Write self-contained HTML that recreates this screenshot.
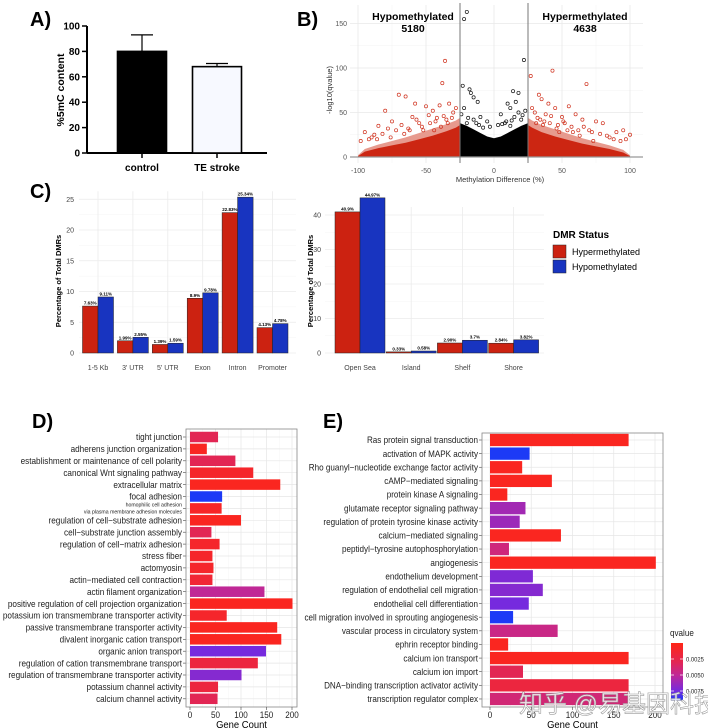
<!DOCTYPE html>
<html><head><meta charset="utf-8">
<style>
html,body{margin:0;padding:0;background:#fff;}
svg{display:block;font-family:"Liberation Sans",sans-serif;}
</style></head>
<body>
<svg id="fig" width="708" height="728" viewBox="0 0 708 728" xmlns="http://www.w3.org/2000/svg"></svg>
<script>
// ---------- data ----------
const aCats = ["control","TE stroke"];
const aVals = [80, 68];
const aErr = [93, 70.5];
const aTicks = [0,20,40,60,80,100];

const bHypoCount = "5180", bHyperCount = "4638";
const bTicksX = [-100,-50,0,50,100];
const bTicksY = [0,50,100,150];
const bBlackEnvX = [-25,-20,-15,-10,-5,0,5,10,15,20,25];
const bBlackEnvY = [38,35,31,27,23,21,23,27,31,35,38];
const bHyperEnvX = [25,28,35,45,55,65,75,85,95,100];
const bHyperEnvY = [36,33,28,23,19,15,12,9,5,1];
const bHypoEnvX = [-25,-28,-35,-45,-55,-65,-75,-85,-95,-100];
const bHypoEnvY = [36,33,29,24,20,16,13,10,6,1];
const bHyperHaloY = [44,41,36,31,26,21,17,13,8,2];
const bHypoHaloY = [44,41,37,32,27,22,18,14,9,2];
const bBlackPtsX = [-20,-22,22,-23,-18,-17,-15,-12,14,18,16,10,12,-22,5,15,-10,-15,20,-20,8,18,-5,3,12,-8,-19,-13,21,9,-3,6,-24,23,-11,13];
const bBlackPtsY = [163,155,109,80,76,72,67,62,74,72,62,60,55,55,48,45,45,42,42,38,38,50,40,36,35,33,44,38,47,40,34,37,48,52,36,41];
const bRedPtsX = [-36,-38,43,68,27,-70,-65,-58,-80,-50,-45,-40,-30,-95,-88,-85,-75,-60,35,40,45,55,60,50,75,80,90,95,100,85,65,30,33,-33,-55,-48,-78,-92,-62,38,52,70,88,-42,-28,28,-52,
  -68,-72,-82,-90,-98,-35,-43,-53,-63,-57,-47,-37,-31,32,37,42,47,57,62,72,78,83,93,97,36,41,46,51,58,66,-66,-76,-86,-44,-39,-34,31,34,48,54,63,73];
const bRedPtsY = [108,83,97,82,91,70,68,60,52,57,52,58,50,28,25,35,40,45,65,60,55,57,48,45,40,38,28,30,25,22,42,50,70,60,38,47,32,20,30,48,38,30,20,44,55,55,30,
  36,30,26,22,18,42,40,34,32,42,38,46,44,44,40,46,36,34,30,28,26,24,18,20,36,38,32,40,28,34,26,22,20,30,34,38,38,42,28,30,24,18];

const cLeftCats = ["1-5 Kb","3' UTR","5' UTR","Exon","Intron","Promoter"];
const cLeftHyper = [7.63,1.99,1.39,8.9,22.83,4.13];
const cLeftHypo = [9.11,2.55,1.59,9.78,25.34,4.78];
const cLeftHyperLbl = ["7.63%","1.99%","1.39%","8.9%","22.83%","4.13%"];
const cLeftHypoLbl = ["9.11%","2.55%","1.59%","9.78%","25.34%","4.78%"];
const cLeftTicks = [0,5,10,15,20,25];
const cRightCats = ["Open Sea","Island","Shelf","Shore"];
const cRightHyper = [40.9,0.33,2.9,2.84];
const cRightHypo = [44.97,0.58,3.7,3.82];
const cRightHyperLbl = ["40.9%","0.33%","2.90%","2.84%"];
const cRightHypoLbl = ["44.97%","0.58%","3.7%","3.82%"];
const cRightTicks = [0,10,20,30,40];

const dTerms = ["tight junction","adherens junction organization","establishment or maintenance of cell polarity","canonical Wnt signaling pathway","extracellular matrix","focal adhesion","homophilic cell adhesion|via plasma membrane adhesion molecules","regulation of cell\u2212substrate adhesion","cell\u2212substrate junction assembly","regulation of cell\u2212matrix adhesion","stress fiber","actomyosin","actin\u2212mediated cell contraction","actin filament organization","positive regulation of cell projection organization","potassium ion transmembrane transporter activity","passive transmembrane transporter activity","divalent inorganic cation transport","organic anion transport","regulation of cation transmembrane transport","regulation of transmembrane transporter activity","potassium channel activity","calcium channel activity"];
const dCounts = [55,33,89,124,177,63,62,100,42,58,44,46,44,146,201,72,171,179,149,133,101,55,54];
const dQ = [0.003,0.0006,0.003,0.001,0.0005,0.009,0.0008,0.0005,0.003,0.001,0.001,0.001,0.0015,0.005,0.0005,0.001,0.0005,0.0005,0.0075,0.002,0.007,0.002,0.003];
const eTerms = ["Ras protein signal transduction","activation of MAPK activity","Rho guanyl\u2212nucleotide exchange factor activity","cAMP\u2212mediated signaling","protein kinase A signaling","glutamate receptor signaling pathway","regulation of protein tyrosine kinase activity","calcium\u2212mediated signaling","peptidyl\u2212tyrosine autophosphorylation","angiogenesis","endothelium development","regulation of endothelial cell migration","endothelial cell differentiation","cell migration involved in sprouting angiogenesis","vascular process in circulatory system","ephrin receptor binding","calcium ion transport","calcium ion import","DNA\u2212binding transcription activator activity","transcription regulator complex"];
const eCounts = [168,48,39,75,21,43,36,86,23,201,52,64,47,28,82,22,168,40,168,168];
const eQ = [0.0005,0.009,0.0005,0.0005,0.0005,0.006,0.0062,0.0005,0.0042,0.0005,0.0072,0.007,0.0075,0.009,0.0045,0.0005,0.0005,0.003,0.002,0.004];
const gcTicks = [0,50,100,150,200];
const qTicks = [0.0025,0.005,0.0075];
const qTickLbl = ["0.0025","0.0050","0.0075"];

// ---------- helpers ----------
const svg = document.getElementById('fig');
const NS = "http://www.w3.org/2000/svg";
function el(tag, attrs, parent){
  const e = document.createElementNS(NS, tag);
  for (const k in attrs) e.setAttribute(k, attrs[k]);
  (parent||svg).appendChild(e);
  return e;
}
function txt(s, attrs, parent){ const t = el('text', attrs, parent); t.textContent = s; return t; }
function ntxt(s, x, y, size, anchor, parent, sx){
  return txt(s,{x:0,y:0,'font-size':size,'text-anchor':anchor,fill:'#222',transform:`translate(${x},${y}) scale(${sx||0.9},1)`},parent);
}
function qColor(q){
  const st=[[0,[255,38,22]],[0.003,[226,38,84]],[0.005,[192,40,150]],[0.0075,[118,42,222]],[0.009,[28,58,246]]];
  q=Math.max(0,Math.min(0.009,q));
  for(let i=1;i<st.length;i++){ if(q<=st[i][0]){ const a=st[i-1],b=st[i],t=(q-a[0])/(b[0]-a[0]);
    const c=a[1].map((v,j)=>Math.round(v+(b[1][j]-v)*t)); return `rgb(${c})`; } }
  return 'rgb(28,58,246)';
}
function panelLabel(s,x,y){
  const t = txt(s,{x:x,y:y,'font-size':20,'font-weight':'bold'});
  
  
}

// ---------- Panel A ----------
const gA = el('g',{});


panelLabel('A)',30,26);
const yA = v => 153 - v*1.27;
const xAc = [142, 217];
el('line',{x1:87,y1:yA(100),x2:87,y2:yA(0),stroke:'#000','stroke-width':2},gA);
el('line',{x1:87,y1:yA(0),x2:267,y2:yA(0),stroke:'#000','stroke-width':2},gA);
aTicks.forEach(t=>{
  el('line',{x1:82,y1:yA(t),x2:87,y2:yA(t),stroke:'#000','stroke-width':1.5},gA);
  txt(String(t),{x:80,y:yA(t)+3.5,'font-size':10,'font-weight':'bold','text-anchor':'end'},gA);
});
aCats.forEach((c,i)=>{
  el('line',{x1:xAc[i],y1:yA(aVals[i]),x2:xAc[i],y2:yA(aErr[i]),stroke:'#000','stroke-width':1.2},gA);
  el('line',{x1:xAc[i]-11,y1:yA(aErr[i]),x2:xAc[i]+11,y2:yA(aErr[i]),stroke:'#000','stroke-width':1.2},gA);
  const r = el('rect',{x:xAc[i]-24.5,y:yA(aVals[i]),width:49,height:yA(0)-yA(aVals[i]),fill:i==0?'#000':'#f7f9ff',stroke:'#000','stroke-width':1.6},gA);
  
  
  el('line',{x1:xAc[i],y1:yA(0),x2:xAc[i],y2:yA(0)+5,stroke:'#000','stroke-width':1.5},gA);
  txt(c,{x:xAc[i],y:171,'font-size':10,'font-weight':'bold','text-anchor':'middle'},gA);
});
txt('%5mC content',{x:0,y:0,'font-size':10.5,'font-weight':'bold','text-anchor':'middle',transform:'translate(64,90) rotate(-90)'},gA);

// ---------- Panel B ----------
const gB = el('g',{});


panelLabel('B)',297,26);
const xB = v => 494 + v*1.36;
const yB = v => 157 - v*0.89;
[-75,-25,25,75].forEach(v=>el('line',{x1:xB(v),y1:5,x2:xB(v),y2:163,stroke:'#f3f3f3','stroke-width':0.6},gB));
[25,75,125].forEach(v=>el('line',{x1:350,y1:yB(v),x2:643,y2:yB(v),stroke:'#f3f3f3','stroke-width':0.6},gB));
bTicksX.forEach(v=>el('line',{x1:xB(v),y1:5,x2:xB(v),y2:163,stroke:'#e8e8e8','stroke-width':0.8},gB));
bTicksY.forEach(v=>el('line',{x1:350,y1:yB(v),x2:643,y2:yB(v),stroke:'#e8e8e8','stroke-width':0.8},gB));
bTicksX.forEach(v=>txt(String(v),{x:xB(v),y:173,'font-size':7,fill:'#555','text-anchor':'middle'},gB));
bTicksY.forEach(v=>txt(String(v),{x:347,y:yB(v)+2.5,'font-size':7,fill:'#555','text-anchor':'end'},gB));
function env(xs,ys,fill,name){
  let d='M'+xB(xs[0])+','+yB(0);
  xs.forEach((x,i)=>d+=' L'+xB(x)+','+yB(ys[i]));
  d+=' L'+xB(xs[xs.length-1])+','+yB(0)+' Z';
  const p=el('path',{d:d,fill:fill},gB);
  
  
}
env(bHyperEnvX,bHyperHaloY,'#e79a8e','hypermethylated-sparse-points');
env(bHypoEnvX,bHypoHaloY,'#e79a8e','hypomethylated-sparse-points');
env(bHyperEnvX,bHyperEnvY,'#cc2612','hypermethylated-point-cloud');
env(bHypoEnvX,bHypoEnvY,'#cc2612','hypomethylated-point-cloud');
env(bBlackEnvX,bBlackEnvY,'#000','non-significant-point-cloud');
bRedPtsX.forEach((x,i)=>{
  const c=el('circle',{cx:xB(x),cy:yB(bRedPtsY[i]),r:1.6,fill:'none',stroke:'#d0321e','stroke-width':0.7},gB);
  
  
});
bBlackPtsX.forEach((x,i)=>{
  const c=el('circle',{cx:xB(x),cy:yB(bBlackPtsY[i]),r:1.6,fill:'none',stroke:'#111','stroke-width':0.7},gB);
  
  
});
el('line',{x1:350,y1:yB(0),x2:643,y2:yB(0),stroke:'#999','stroke-width':1.2},gB);
[-25,25].forEach(v=>el('line',{x1:xB(v),y1:3,x2:xB(v),y2:163,stroke:'#777','stroke-width':1},gB));
txt('Hypomethylated',{x:413,y:20,'font-size':10.5,'font-weight':'bold','text-anchor':'middle'},gB);
txt(bHypoCount,{x:413,y:32,'font-size':10.5,'font-weight':'bold','text-anchor':'middle'},gB);
txt('Hypermethylated',{x:585,y:20,'font-size':10.5,'font-weight':'bold','text-anchor':'middle'},gB);
txt(bHyperCount,{x:585,y:32,'font-size':10.5,'font-weight':'bold','text-anchor':'middle'},gB);
txt('-log10(qvalue)',{x:0,y:0,'font-size':7.5,fill:'#333','text-anchor':'middle',transform:'translate(332,90) rotate(-90)'},gB);
txt('Methylation Difference (%)',{x:500,y:182,'font-size':7.5,fill:'#333','text-anchor':'middle'},gB);

// ---------- Panel C ----------
const gC = el('g',{});


panelLabel('C)',30,198);
const RED='#cc2211', BLUE='#1834c0';
function groupedBars(cats,hy,ho,hyL,hoL,ticks,yf,x0,x1,cx0,step,bw,tickX,ylx,prefix){
  ticks.forEach(t=>{
    el('line',{x1:x0,y1:yf(t),x2:x1,y2:yf(t),stroke:'#ebebeb','stroke-width':0.8},gC);
    txt(String(t),{x:tickX,y:yf(t)+2.5,'font-size':7,fill:'#444','text-anchor':'end'},gC);
  });
  for(let k=0;k<ticks.length-1;k++){ const m=(ticks[k]+ticks[k+1])/2;
    el('line',{x1:x0,y1:yf(m),x2:x1,y2:yf(m),stroke:'#f5f5f5','stroke-width':0.6},gC);}
  cats.forEach((c,i)=>{
    const cx=cx0+i*step;
    el('line',{x1:cx,y1:yf(ticks[ticks.length-1])-8,x2:cx,y2:yf(0),stroke:'#ebebeb','stroke-width':0.8},gC);
    const r1=el('rect',{x:cx-bw,y:yf(hy[i]),width:bw,height:yf(0)-yf(hy[i]),fill:RED,stroke:'#222','stroke-width':0.5},gC);
    
    
    const r2=el('rect',{x:cx,y:yf(ho[i]),width:bw,height:yf(0)-yf(ho[i]),fill:BLUE,stroke:'#222','stroke-width':0.5},gC);
    
    
    txt(hyL[i],{x:cx-bw/2,y:yf(hy[i])-1.5,'font-size':4.5,'font-weight':'bold','text-anchor':'middle'},gC);
    txt(hoL[i],{x:cx+bw/2,y:yf(ho[i])-1.5,'font-size':4.5,'font-weight':'bold','text-anchor':'middle'},gC);
    txt(c,{x:cx,y:370,'font-size':7,fill:'#444','text-anchor':'middle'},gC);
  });
  txt('Percentage of Total DMRs',{x:0,y:0,'font-size':7.5,'font-weight':'bold','text-anchor':'middle',transform:`translate(${ylx},281) rotate(-90)`},gC);
}
const yCL = v => 353 - v*6.15;
const yCR = v => 353 - v*3.45;
groupedBars(cLeftCats,cLeftHyper,cLeftHypo,cLeftHyperLbl,cLeftHypoLbl,cLeftTicks,yCL,79,296,98,34.9,15.5,74,61,'region');
groupedBars(cRightCats,cRightHyper,cRightHypo,cRightHyperLbl,cRightHypoLbl,cRightTicks,yCR,325,544,360,51.2,25,321,313,'cpg');
const gL = el('g',{},gC);


txt('DMR Status',{x:553,y:238,'font-size':10,'font-weight':'bold'},gL);
el('rect',{x:553,y:245,width:13,height:13,fill:RED,stroke:'#222','stroke-width':0.5},gL);
el('rect',{x:553,y:260,width:13,height:13,fill:BLUE,stroke:'#222','stroke-width':0.5},gL);
txt('Hypermethylated',{x:572,y:255,'font-size':9},gL);
txt('Hypomethylated',{x:572,y:270,'font-size':9},gL);

// ---------- Panels D / E ----------
function goChart(name,terms,counts,qs,L,R,T,B,xf,y0,step,bh,lblX,sx){
  const g=el('g',{});
  
  
  el('rect',{x:L,y:T,width:R-L,height:B-T,fill:'#fff'},g);
  [25,75,125,175].forEach(v=>el('line',{x1:xf(v),y1:T,x2:xf(v),y2:B,stroke:'#f4f4f4','stroke-width':0.5},g));
  gcTicks.forEach(v=>el('line',{x1:xf(v),y1:T,x2:xf(v),y2:B,stroke:'#e6e6e6','stroke-width':0.7},g));
  terms.forEach((t,i)=>{
    const y=y0+i*step;
    el('line',{x1:L,y1:y,x2:R,y2:y,stroke:'#e6e6e6','stroke-width':0.7},g);
  });
  terms.forEach((t,i)=>{
    const y=y0+i*step;
    const r=el('rect',{x:xf(0),y:y-bh/2,width:xf(counts[i])-xf(0),height:bh,fill:qColor(qs[i])},g);
    
    
    el('line',{x1:L-3,y1:y,x2:L,y2:y,stroke:'#444','stroke-width':0.6},g);
    if(t.indexOf('|')>=0){
      const p=t.split('|');
      ntxt(p[0],lblX,y-2,5.7,'end',g,sx);
      ntxt(p[1],lblX,y+5,5.7,'end',g,sx);
    } else ntxt(t,lblX,y+3.2,9,'end',g,sx);
  });
  el('rect',{x:L,y:T,width:R-L,height:B-T,fill:'none',stroke:'#888','stroke-width':0.8},g);
  gcTicks.forEach(v=>{
    el('line',{x1:xf(v),y1:B,x2:xf(v),y2:B+3,stroke:'#444','stroke-width':0.6},g);
    ntxt(String(v),xf(v),B+11,9,'middle',g,0.9);
  });
  const gt = ntxt('Gene Count',(L+R)/2,B+21,10.5,'middle',g,0.9);
  gt.setAttribute('fill','#000');
}
panelLabel('D)',32,428);
panelLabel('E)',323,428);
const xD = v => 190 + v*0.51;
const xE = v => 490 + v*0.825;
goChart('panel-d-go-chart',dTerms,dCounts,dQ,186,297,429,707,xD,437,11.9,10.5,182,0.91);
goChart('panel-e-go-chart',eTerms,eCounts,eQ,482,663,433,707,xE,440,13.63,12.3,478,0.9);

// colorbar
const gQ = el('g',{});


const defs = el('defs',{});
const lg = el('linearGradient',{id:'qg',x1:0,y1:0,x2:0,y2:1},defs);
[0,0.003,0.005,0.0075,0.009].forEach(q=>el('stop',{offset:(q/0.009),'stop-color':qColor(q)},lg));
const yQ = q => 643 + q*6400;
ntxt('qvalue',670,636,9,'start',gQ,0.9);
el('rect',{x:671,y:yQ(0),width:12,height:yQ(0.009)-yQ(0),fill:'url(#qg)'},gQ);
qTicks.forEach((q,i)=>{
  el('line',{x1:671,y1:yQ(q),x2:674,y2:yQ(q),stroke:'#fff','stroke-width':0.7},gQ);
  el('line',{x1:680,y1:yQ(q),x2:683,y2:yQ(q),stroke:'#fff','stroke-width':0.7},gQ);
  ntxt(qTickLbl[i],686,yQ(q)+2.5,6.5,'start',gQ,0.9);
});

// watermark
const wm = txt('知乎 @易基因科技',{x:519,y:712,'font-size':24,fill:'#ffffff','fill-opacity':0.85,stroke:'#9a9a9a','stroke-width':0.6,style:'font-family:"Liberation Sans","Noto Sans CJK SC",sans-serif'});


</script>
</body></html>
